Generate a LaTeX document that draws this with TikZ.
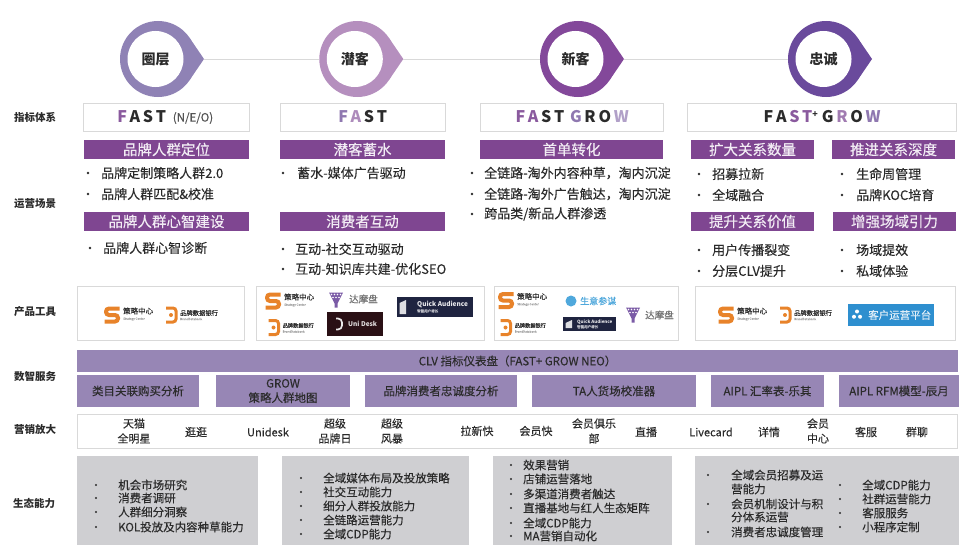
\documentclass[tikz,border=0pt]{standalone}
\usepackage{fontspec}
\setmainfont[FakeBold=0.25,BoldFeatures={FakeBold=0}]{Noto Sans CJK SC}

\definecolor{bandpurple}{HTML}{7F4691}
\definecolor{servpurple}{HTML}{9786B5}
\definecolor{eco}{HTML}{CFCFD2}
\definecolor{edge}{HTML}{D9D9D9}
\definecolor{inkdark}{HTML}{2B2B2B}
\definecolor{lilac}{HTML}{8F78B0}
\definecolor{mauve}{HTML}{8A5A9E}
\definecolor{logoorange}{HTML}{E8832A}
\definecolor{funnel}{HTML}{7B5BA6}
\definecolor{qadark}{HTML}{1F2440}
\definecolor{unidark}{HTML}{2A1015}
\definecolor{sycm}{HTML}{4FA8DC}
\definecolor{crmblue}{HTML}{2E8FCF}

\tikzset{
  ringnode/.style={circle, minimum size=76, inner sep=0},
  holenode/.style={circle, fill=white, minimum size=56, inner sep=0, font=\fontsize{14}{14}\selectfont\bfseries, text=inkdark},
  sidelabel/.style={inner sep=0, font=\fontsize{10.5}{11}\selectfont\bfseries, text=inkdark},
  kpibox/.style={draw=edge, line width=0.8, fill=white, inner sep=0, minimum height=28},
  fasttext/.style={inner sep=0, font=\fontsize{16}{16}\selectfont\bfseries, text=inkdark},
  band/.style={fill=bandpurple, inner sep=0, minimum height=19, text=white!90!bandpurple, font=\fontsize{14.5}{15}\selectfont},
  itemtext/.style={anchor=west, inner sep=0, text=inkdark, font=\fontsize{13}{14}\selectfont},
  toolbox/.style={draw=edge, line width=0.8, fill=white, inner sep=0, minimum height=54},
  serv/.style={fill=servpurple, inner sep=0, minimum height=32.5, align=center, text=inkdark, font=\fontsize{11.5}{14.5}\selectfont},
  mkt/.style={inner sep=0, align=center, text=inkdark, font=\fontsize{11}{15}\selectfont},
  ecobox/.style={fill=eco, inner sep=0, minimum height=89},
  ecotext/.style={anchor=west, inner sep=0, text=inkdark, font=\fontsize{11.5}{12}\selectfont},
  logotext/.style={inner sep=0, anchor=west, text=inkdark},
  logosub/.style={inner sep=0, anchor=west, text=gray!70, font=\fontsize{3}{3}\selectfont},
}

% one letter of the FAST words: colour, letter
\newcommand{\fl}[2]{\textcolor{#1}{#2}\kern2.7pt}

% logo pieces: name, x, y
\newcommand{\stratlogo}[3]{
  \draw[logoorange, line width=4, rounded corners=3] (#2+7.5,#3-6.5) -- (#2-6,#3-6.5) -- (#2-6,#3) -- (#2+6,#3) -- (#2+6,#3+6.5) -- (#2-7.5,#3+6.5);
  \node[logotext, font=\fontsize{7.5}{8}\selectfont] (#1) at (#2+11,#3-4) {策略中心};
  \node[logosub] (#1sub) at (#2+11,#3+4) {Strategy Center};
}
% name, x, y, size of the text
\newcommand{\banklogo}[4]{
  \draw[logoorange, line width=3, rounded corners=3] (#2-5,#3-7) -- (#2+5,#3-7) -- (#2+5,#3+7) -- (#2-5,#3+7);
  \fill[logoorange] (#2,#3) circle[radius=2];
  \node[logotext, font=\fontsize{#4}{#4}\selectfont] (#1) at (#2+9,#3-2) {品牌数据银行};
  \node[logosub] (#1sub) at (#2+9,#3+4) {BrandDatabank};
}
\newcommand{\dmplogo}[2]{
  \fill[funnel] (#1-7,#2-7) -- (#1+7,#2-7) -- (#1+1.5,#2+4) -- (#1+1.5,#2+8) -- (#1-1.5,#2+8) -- (#1-1.5,#2+4) -- cycle;
  \foreach \dx in {-4.5,-1.5,1.5,4.5} \fill[white] (#1+\dx,#2-5) circle[radius=0.8];
  \foreach \dx in {-3,0,3} \fill[white] (#1+\dx,#2-2) circle[radius=0.8];
}
% name, x1, y1, x2, y2, text offset, text size
\newcommand{\qalogo}[7]{
  \fill[qadark] (#2,#3) rectangle (#4,#5);
  \fill[white!85!qadark] (#2+2.5,#3+6) -- (#2+9,#3+3) -- (#2+9,#5-3) -- (#2+2.5,#5-3) -- cycle;
  \node[inner sep=0, anchor=west, text=white!90!qadark, font=\fontsize{#7}{#7}\selectfont\bfseries] (#1) at (#2+#6,#3*0.65+#5*0.35) {Quick Audience};
  \node[inner sep=0, anchor=west, text=white!70!qadark, font=\fontsize{3.5}{4}\selectfont] (#1sub) at (#2+#6,#3*0.3+#5*0.7) {智能用户增长};
}

\begin{document}
\begin{tikzpicture}[x=1pt,y=-1pt]
  \useasboundingbox (0,0) rectangle (968,551);

  % pins of the four stages
  \foreach \n/\x/\col/\txt in {a/158/8F82B5/圈层, b/357.3/B58FBE/潜客, c/578/83489A/新客, d/826/6A4A9C/忠诚}{
    \definecolor{pincol}{HTML}{\col}
    \fill[pincol] (\x,59) ++(31.4,-21.4) -- ++(14.6,21.4) -- ++(-14.6,21.4) -- cycle;
    \node[ringnode, fill=pincol] (ring\n) at (\x,59) {};
    \node[holenode] (hole\n) at (\x-2.5,59) {\txt};
    \coordinate (tip\n) at (\x+46,59);
  }
  \draw[edge, line width=0.9] (tipa) -- (ringb);
  \draw[edge, line width=0.9] (tipb) -- (ringc);
  \draw[edge, line width=0.9] (tipc) -- (ringd);

  % labels on the left
  \node[sidelabel] (lkpi) at (35,117) {指标体系};
  \node[sidelabel] (lscene) at (35,204) {运营场景};
  \node[sidelabel] (ltool) at (35,312) {产品工具};
  \node[sidelabel] (lserv) at (35,376) {数智服务};
  \node[sidelabel] (lmkt) at (35,429) {营销放大};
  \node[sidelabel] (leco) at (34,503) {生态能力};

  % FAST row
  \node[kpibox, minimum width=166] (kpia) at (166,117) {};
  \node[kpibox, minimum width=165] (kpib) at (362.5,117) {};
  \node[kpibox, minimum width=183] (kpic) at (571.5,117) {};
  \node[kpibox, minimum width=269] (kpid) at (821.5,117) {};
  \node[fasttext] (fasta) at (143,117) {\fl{mauve}{F}\fl{inkdark}{A}\fl{inkdark}{S}\fl{inkdark}{T}};
  \node[inner sep=0, font=\fontsize{11.5}{12}\selectfont, text=gray!50!inkdark] (fastan) at (193,118) {(N/E/O)};
  \node[fasttext] (fastb) at (364,117) {\fl{lilac}{F}\fl{mauve!70}{A}\fl{inkdark}{S}\fl{inkdark}{T}};
  \node[fasttext] (fastc) at (573.5,117) {\fl{mauve}{F}\fl{mauve}{A}\fl{inkdark}{S}\fl{inkdark}{T}\kern3pt\fl{lilac}{G}\fl{inkdark}{R}\fl{inkdark}{O}\fl{lilac!70}{W}};
  \node[fasttext] (fastd) at (823.5,117) {\fl{inkdark}{F}\fl{inkdark}{A}\fl{mauve}{S}\textcolor{mauve}{T}\raisebox{5pt}{\fontsize{9}{9}\selectfont +}\kern4pt\fl{inkdark}{G}\fl{mauve!80}{R}\fl{inkdark}{O}\fl{lilac}{W}};

  % purple headers
  \node[band, minimum width=165] (ha) at (166.5,149.5) {品牌人群定位};
  \node[band, minimum width=165] (hb) at (362.5,149.5) {潜客蓄水};
  \node[band, minimum width=183] (hc) at (571.5,149.5) {首单转化};
  \node[band, minimum width=123] (hd) at (752.5,149.5) {扩大关系数量};
  \node[band, minimum width=123] (he) at (893.5,149.5) {推进关系深度};
  \node[band, minimum width=165] (hf) at (166.5,221.5) {品牌人群心智建设};
  \node[band, minimum width=165] (hg) at (362.5,221.5) {消费者互动};
  \node[band, minimum width=123] (hh) at (752.5,221.5) {提升关系价值};
  \node[band, minimum width=123] (hi) at (894.5,221.5) {增强场域引力};

  % bullet lists of the scenes
  \fill[inkdark] (88,173) circle[radius=1.3];
  \node[itemtext] (ia1) at (101,173) {品牌定制策略人群2.0};
  \fill[inkdark] (88,194) circle[radius=1.3];
  \node[itemtext] (ia2) at (101,194) {品牌人群匹配\&校准};
  \fill[inkdark] (90,248) circle[radius=1.3];
  \node[itemtext] (ia3) at (103,248) {品牌人群心智诊断};
  \fill[inkdark] (283,173) circle[radius=1.3];
  \node[itemtext] (ib1) at (297,173) {蓄水-媒体广告驱动};
  \fill[inkdark] (283,249) circle[radius=1.3];
  \node[itemtext] (ib2) at (295,249) {互动-社交互动驱动};
  \fill[inkdark] (283,269) circle[radius=1.3];
  \node[itemtext] (ib3) at (295,269) {互动-知识库共建-优化SEO};
  \fill[inkdark] (472,173) circle[radius=1.3];
  \node[itemtext] (ic1) at (484,173) {全链路-淘外内容种草，淘内沉淀};
  \fill[inkdark] (472,194) circle[radius=1.3];
  \node[itemtext] (ic2) at (484,194) {全链路-淘外广告触达，淘内沉淀};
  \fill[inkdark] (472,214) circle[radius=1.3];
  \node[itemtext] (ic3) at (484,214) {跨品类/新品人群渗透};
  \fill[inkdark] (699,174) circle[radius=1.3];
  \node[itemtext] (id1) at (712,174) {招募拉新};
  \fill[inkdark] (699,195) circle[radius=1.3];
  \node[itemtext] (id2) at (712,195) {全域融合};
  \fill[inkdark] (699,250) circle[radius=1.3];
  \node[itemtext] (id3) at (712,250) {用户传播裂变};
  \fill[inkdark] (699,271) circle[radius=1.3];
  \node[itemtext] (id4) at (712,271) {分层CLV提升};
  \fill[inkdark] (842,174) circle[radius=1.3];
  \node[itemtext] (ie1) at (856,174) {生命周管理};
  \fill[inkdark] (842,195) circle[radius=1.3];
  \node[itemtext] (ie2) at (856,195) {品牌KOC培育};
  \fill[inkdark] (842,250) circle[radius=1.3];
  \node[itemtext] (ie3) at (856,250) {场域提效};
  \fill[inkdark] (842,271) circle[radius=1.3];
  \node[itemtext] (ie4) at (856,271) {私域体验};

  % product tools
  \node[toolbox, minimum width=167] (toola) at (160.5,313) {};
  \node[toolbox, minimum width=228] (toolb) at (370,313) {};
  \node[toolbox, minimum width=184] (toolc) at (586,313) {};
  \node[toolbox, minimum width=260] (toold) at (825,313) {};

  \stratlogo{sta}{112}{315}
  \banklogo{bka}{171}{315}{6.3}
  \stratlogo{stb}{273}{301}
  \banklogo{bkb}{273.5}{327.5}{5.2}
  \stratlogo{stc}{506}{300.5}
  \banklogo{bkc}{505.5}{327.5}{5.2}
  \stratlogo{std}{726}{315}
  \banklogo{bkd}{785}{315}{6.3}

  \dmplogo{336}{299.5}
  \node[logotext, text=gray!90!black, font=\fontsize{9.5}{10}\selectfont] (dmpb) at (349,299) {达摩盘};
  \dmplogo{633}{314.5}
  \node[logotext, text=gray!90!black, font=\fontsize{9.5}{10}\selectfont] (dmpc) at (645,315) {达摩盘};

  \qalogo{qab}{397}{297}{473}{317}{20}{6.5}
  \qalogo{qac}{563}{317}{616}{331}{14}{4.5}

  \node[fill=unidark, inner sep=0, minimum width=56, minimum height=24] (uni) at (355,324) {};
  \draw[white!90!unidark, line width=1.7, rounded corners=4] (336,318.5) -- (342,318.5) -- (342,329.5) -- (336,329.5);
  \node[logotext, text=white!85!unidark, font=\fontsize{6.5}{7}\selectfont\bfseries] (unit) at (348,324) {Uni Desk};

  \fill[sycm] (571,301) circle[radius=5.5];
  \node[logotext, text=sycm, font=\fontsize{9}{10}\selectfont] (canmou) at (580,301) {生意参谋};

  \node[fill=crmblue, inner sep=0, minimum width=86, minimum height=22] (crm) at (891,315) {};
  \foreach \a in {30,150,270} \fill[white] (857,315) ++(\a:3.5) circle[radius=2];
  \node[logotext, text=white!85!crmblue, font=\fontsize{10.5}{11}\selectfont] (crmt) at (868,315) {客户运营平台};

  % data services
  \node[fill=servpurple, inner sep=0, minimum width=881, minimum height=22, text=inkdark, font=\fontsize{11.5}{12}\selectfont] (clv) at (517.5,361) {CLV 指标仪表盘（FAST+ GROW NEO）};
  \node[serv, minimum width=122] (sa) at (138,391) {类目关联购买分析};
  \node[serv, minimum width=133.5] (sb) at (283,391) {GROW\\策略人群地图};
  \node[serv, minimum width=152] (sc) at (441,391) {品牌消费者忠诚度分析};
  \node[serv, minimum width=164] (sd) at (614,391) {TA人货场校准器};
  \node[serv, minimum width=113] (se) at (767.5,391) {AIPL 汇率表-乐其};
  \node[serv, minimum width=120] (sf) at (899,391) {AIPL RFM模型-辰月};

  % marketing
  \node[draw=edge, line width=0.8, inner sep=0, minimum width=880, minimum height=34] (mktbox) at (517,431) {};
  \node[mkt] (m1) at (134,431) {天猫\\全明星};
  \node[mkt] (m2) at (196,432) {逛逛};
  \node[mkt] (m3) at (268,432) {Unidesk};
  \node[mkt] (m4) at (335,431) {超级\\品牌日};
  \node[mkt] (m5) at (392,431) {超级\\风暴};
  \node[mkt] (m6) at (477,431) {拉新快};
  \node[mkt] (m7) at (536,431) {会员快};
  \node[mkt] (m8) at (594,431) {会员俱乐\\部};
  \node[mkt] (m9) at (646,432) {直播};
  \node[mkt] (m10) at (711,432) {Livecard};
  \node[mkt] (m11) at (769,432) {详情};
  \node[mkt] (m12) at (818,431) {会员\\中心};
  \node[mkt] (m13) at (866,432) {客服};
  \node[mkt] (m14) at (917,432) {群聊};

  % ecosystem
  \node[ecobox, minimum width=181] (ga) at (167.5,500.5) {};
  \node[ecobox, minimum width=187] (gb) at (375.5,500.5) {};
  \node[ecobox, minimum width=179] (gc) at (582.5,500.5) {};
  \node[ecobox, minimum width=264] (gd) at (827,500.5) {};

  \fill[inkdark] (96,485) circle[radius=1.1];
  \node[ecotext] (ea1) at (118,485) {机会市场研究};
  \fill[inkdark] (96,498) circle[radius=1.1];
  \node[ecotext] (ea2) at (118,498) {消费者调研};
  \fill[inkdark] (96,512) circle[radius=1.1];
  \node[ecotext] (ea3) at (118,512) {人群细分洞察};
  \fill[inkdark] (96,527) circle[radius=1.1];
  \node[ecotext] (ea4) at (118,527) {KOL投放及内容种草能力};

  \fill[inkdark] (301,478) circle[radius=1.1];
  \node[ecotext] (eb1) at (323,478) {全域媒体布局及投放策略};
  \fill[inkdark] (301,492) circle[radius=1.1];
  \node[ecotext] (eb2) at (323,492) {社交互动能力};
  \fill[inkdark] (301,506) circle[radius=1.1];
  \node[ecotext] (eb3) at (323,506) {细分人群投放能力};
  \fill[inkdark] (301,520) circle[radius=1.1];
  \node[ecotext] (eb4) at (323,520) {全链路运营能力};
  \fill[inkdark] (301,534) circle[radius=1.1];
  \node[ecotext] (eb5) at (323,534) {全域CDP能力};

  \fill[inkdark] (511,465) circle[radius=1.1];
  \node[ecotext] (ec1) at (523,465) {效果营销};
  \fill[inkdark] (511,479) circle[radius=1.1];
  \node[ecotext] (ec2) at (523,479) {店铺运营落地};
  \fill[inkdark] (511,494) circle[radius=1.1];
  \node[ecotext] (ec3) at (523,494) {多渠道消费者触达};
  \fill[inkdark] (511,508) circle[radius=1.1];
  \node[ecotext] (ec4) at (523,508) {直播基地与红人生态矩阵};
  \fill[inkdark] (511,523) circle[radius=1.1];
  \node[ecotext] (ec5) at (523,523) {全域CDP能力};
  \fill[inkdark] (511,536) circle[radius=1.1];
  \node[ecotext] (ec6) at (523,536) {MA营销自动化};

  \fill[inkdark] (708,475) circle[radius=1.1];
  \node[ecotext] (ed1) at (731,475) {全域会员招募及运};
  \node[ecotext] (ed2) at (731,489) {营能力};
  \fill[inkdark] (708,504) circle[radius=1.1];
  \node[ecotext] (ed3) at (731,504) {会员机制设计与积};
  \node[ecotext] (ed4) at (731,517) {分体系运营};
  \fill[inkdark] (708,532) circle[radius=1.1];
  \node[ecotext] (ed5) at (731,532) {消费者忠诚度管理};

  \fill[inkdark] (840,485) circle[radius=1.1];
  \node[ecotext] (ee1) at (862,485) {全域CDP能力};
  \fill[inkdark] (840,499) circle[radius=1.1];
  \node[ecotext] (ee2) at (862,499) {社群运营能力};
  \fill[inkdark] (840,513) circle[radius=1.1];
  \node[ecotext] (ee3) at (862,513) {客服服务};
  \fill[inkdark] (840,527) circle[radius=1.1];
  \node[ecotext] (ee4) at (862,527) {小程序定制};

\end{tikzpicture}
\end{document}
